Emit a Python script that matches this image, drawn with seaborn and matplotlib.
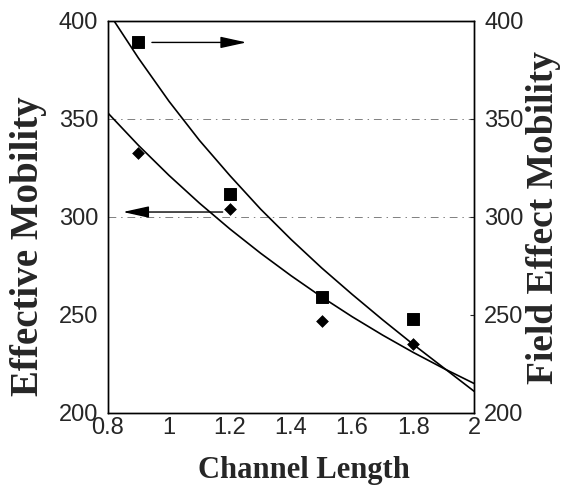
import matplotlib
matplotlib.use("Agg")
import matplotlib.pyplot as plt
import pandas as pd
import seaborn as sns

# measured points (channel length vs mobility)
channel_length = [0.9, 1.2, 1.5, 1.8]
effective_mobility = [332.5, 304, 247, 235]
field_effect_mobility = [389, 311.5, 259, 248]

# trend curves
fit_x = [0.82, 0.9, 1.0, 1.1, 1.2, 1.3, 1.4, 1.5, 1.6, 1.7, 1.8, 1.9, 2.0]
fit_field = [400, 381, 359, 339, 321, 304, 288.5, 274, 260.5, 247.5, 235, 223, 211]
fit_x2 = [0.8, 0.9, 1.0, 1.1, 1.2, 1.3, 1.4, 1.5, 1.6, 1.7, 1.8, 1.9, 2.0]
fit_effective = [353, 336.5, 321.2, 307, 293.8, 281.5, 270, 259.2, 249.1, 239.7, 230.9, 222.7, 215]

ref_lines = [350, 300]
x_ticks = [0.8, 1.0, 1.2, 1.4, 1.6, 1.8, 2.0]
x_tick_labels = ["0.8", "1", "1.2", "1.4", "1.6", "1.8", "2"]
y_ticks = [200, 250, 300, 350, 400]

sns.set_style("white")
plt.rcParams['font.family'] = ['Liberation Sans', 'DejaVu Sans']

fig = plt.figure(figsize=(5.68, 4.92), dpi=100)
ax = fig.add_axes([0.190, 0.1606, 0.645, 0.797])
ax2 = ax.twinx()

pts = pd.DataFrame({"L": channel_length, "eff": effective_mobility, "fe": field_effect_mobility})
curves = pd.DataFrame({"x": fit_x, "fe": fit_field})
curves2 = pd.DataFrame({"x": fit_x2, "eff": fit_effective})

for y in ref_lines:
    ax.axhline(y, color="0.5", lw=0.7, ls=(0, (8, 5, 1.5, 5)), zorder=1)

sns.lineplot(data=curves, x="x", y="fe", ax=ax2, color="black", lw=1.2)
sns.lineplot(data=curves2, x="x", y="eff", ax=ax, color="black", lw=1.2)
sns.scatterplot(data=pts, x="L", y="eff", ax=ax, marker="D", s=36, color="black",
                edgecolor="black", zorder=5)
sns.scatterplot(data=pts, x="L", y="fe", ax=ax2, marker="s", s=70, color="black",
                edgecolor="black", zorder=5)

# arrows pointing to the axis each series belongs to
head = "-|>,head_length=1.0,head_width=0.22"
ax2.annotate("", xy=(1.263, field_effect_mobility[0]), xytext=(0.935, field_effect_mobility[0]),
             arrowprops=dict(arrowstyle=head, color="black", lw=1, mutation_scale=16))
ax.annotate("", xy=(0.84, effective_mobility[1] - 1.5), xytext=(1.185, effective_mobility[1] - 1.5),
            arrowprops=dict(arrowstyle=head, color="black", lw=1, mutation_scale=16))

for a in (ax, ax2):
    a.set_xlim(0.8, 2.0)
    a.set_ylim(200, 400)
    a.set_xlabel("")
    a.set_ylabel("")
    for s in a.spines.values():
        s.set_visible(True)
        s.set_color("black")
        s.set_linewidth(1.0)

ax.set_xticks(x_ticks)
ax.set_xticklabels(x_tick_labels)
ax.set_yticks(y_ticks)
ax2.set_yticks(y_ticks)
ax.tick_params(axis="x", direction="in", length=4, labelsize=17, pad=3)
ax.tick_params(axis="y", direction="in", length=0, labelsize=17, pad=7)
ax2.tick_params(axis="y", direction="in", length=3, labelsize=17, pad=7)

fig.text(0.05, 0.50, "Effective Mobility", rotation=90, ha="center", va="center",
         fontsize=28, fontweight="bold", family="Liberation Serif")
fig.text(0.957, 0.557, "Field Effect Mobility", rotation=90, ha="center", va="center",
         fontsize=27, fontweight="bold", family="Liberation Serif")
fig.text(0.535, 0.043, "Channel Length", ha="center", va="center",
         fontsize=22, fontweight="bold", family="Liberation Serif")

fig.savefig("out.png", dpi=100)
